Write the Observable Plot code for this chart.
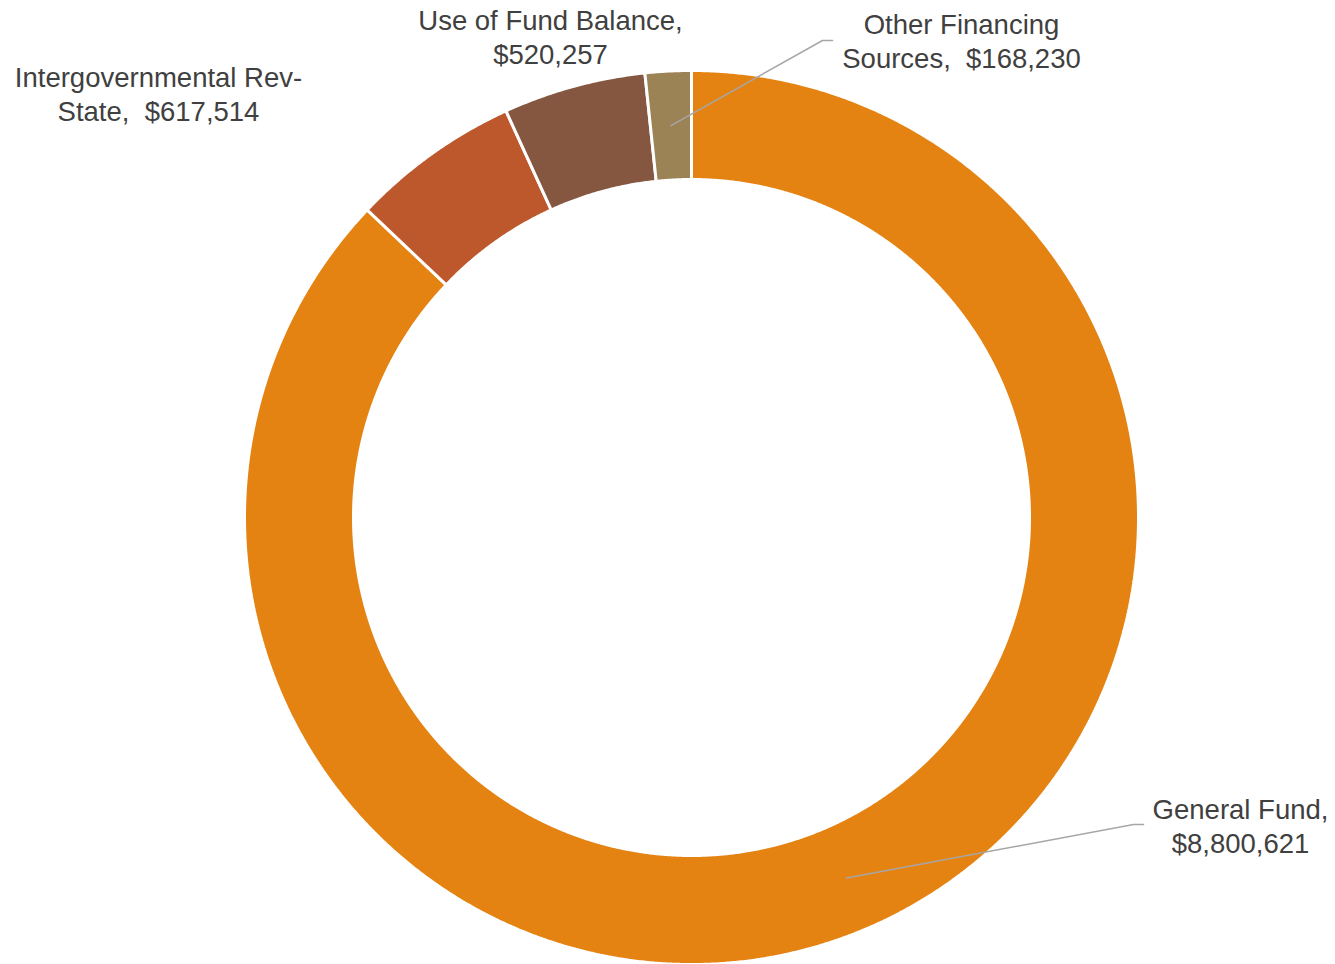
<!DOCTYPE html>
<html><head><meta charset="utf-8">
<script src="https://cdn.jsdelivr.net/npm/d3@7"></script>
<script src="https://cdn.jsdelivr.net/npm/@observablehq/plot@0.6"></script>
<style>body{margin:0;background:#fff}</style>
</head><body><div id="chart"></div>
<script>
// ---- data ----
const categories = ["General Fund", "Intergovernmental Rev-State", "Use of Fund Balance", "Other Financing Sources"];
const values = [8800621, 617514, 520257, 168230];
const labelTexts = ["General Fund,\n$8,800,621", "Intergovernmental Rev-\nState,  $617,514", "Use of Fund Balance,\n$520,257", "Other Financing\nSources,  $168,230"];
const colors = ["#E48312", "#BD582C", "#855640", "#9C8356"];

// ---- layout (pixel units relative to the ring centre, y up) ----
const W = 1335, H = 964, CX = 691, CY = 517, R = 447, r = 338;
const labelLayout = {
  "General Fund": {tx: 549, ty: -308, leader: [[442, -307], [452, -307]]},
  "Intergovernmental Rev-State": {tx: -533, ty: 424, leader: null},
  "Use of Fund Balance": {tx: -141, ty: 481, leader: null},
  "Other Financing Sources": {tx: 270, ty: 477.5, leader: [[131, 477], [141, 477]]}
};

const arcs = d3.pie().sort(null).value(d => d.value)(
  categories.map((c, i) => ({cat: c, value: values[i], label: labelTexts[i]}))
);
const pt = (a, rad) => [rad * Math.sin(a), rad * Math.cos(a)];

// ring-segment outlines
const ring = [];
for (const a of arcs) {
  const n = Math.max(2, Math.ceil((a.endAngle - a.startAngle) / (0.25 * Math.PI / 180)));
  const pts = [];
  for (let k = 0; k <= n; k++) pts.push(pt(a.startAngle + (a.endAngle - a.startAngle) * k / n, R));
  for (let k = n; k >= 0; k--) pts.push(pt(a.startAngle + (a.endAngle - a.startAngle) * k / n, r));
  pts.push(pts[0]);
  for (const p of pts) ring.push({cat: a.data.cat, x: p[0], y: p[1]});
}

// leader lines
const leaders = [];
for (const a of arcs) {
  const L = labelLayout[a.data.cat];
  if (!L.leader) continue;
  const mid = (a.startAngle + a.endAngle) / 2;
  const s = pt(mid, (R + r) / 2);
  [s, ...L.leader].forEach(p => leaders.push({cat: a.data.cat, x: p[0], y: p[1]}));
}

const labels = arcs.map(a => ({
  text: a.data.label,
  x: labelLayout[a.data.cat].tx,
  y: labelLayout[a.data.cat].ty
}));

const chart = Plot.plot({
  width: W, height: H, margin: 0,
  x: {domain: [-CX, W - CX], axis: null},
  y: {domain: [-(H - CY), CY], axis: null},
  color: {domain: categories, range: colors, legend: false},
  style: {background: "#fff", overflow: "visible"},
  marks: [
    Plot.line(ring, {x: "x", y: "y", z: "cat", fill: "cat", stroke: "#fff", strokeWidth: 3, curve: "linear", strokeLinejoin: "miter"}),
    Plot.line(leaders, {x: "x", y: "y", z: "cat", stroke: "#A6A6A6", strokeWidth: 1.5}),
    Plot.text(labels, {x: "x", y: "y", text: "text", textAnchor: "middle", lineAnchor: "middle",
      lineHeight: 1.23, fontSize: 27.5, fontFamily: "'Liberation Sans', Arial, sans-serif", fill: "#404040"})
  ]
});
document.getElementById("chart").appendChild(chart);
</script>
</body></html>
